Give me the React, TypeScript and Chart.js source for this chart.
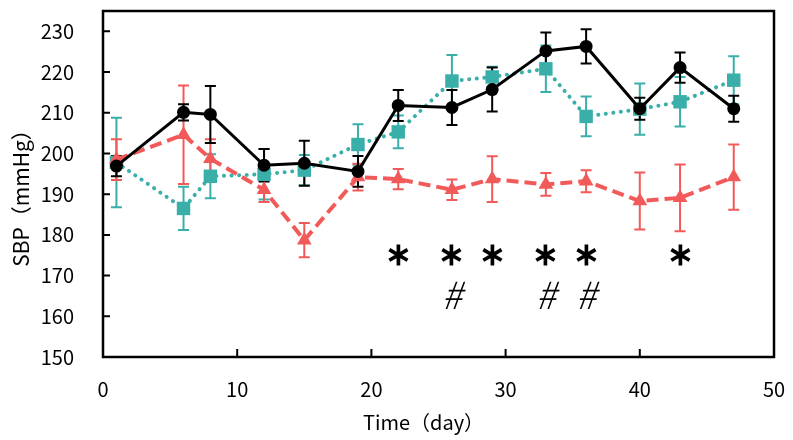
import React, { useEffect, useRef } from "react";
import { Chart, registerables } from "chart.js";

Chart.register(...registerables);

const days = [1, 6, 8, 12, 15, 19, 22, 26, 29, 33, 36, 40, 43, 47];

const blackMean = [196.9, 210.1, 209.6, 197.1, 197.6, 195.6, 211.8, 211.3, 215.7, 225.2, 226.3, 211.0, 221.1, 211.0];
const blackSd = [2.5, 2.0, 7.0, 4.0, 5.5, 3.8, 3.8, 4.3, 5.4, 4.5, 4.2, 2.7, 3.7, 3.2];

const tealMean = [197.8, 186.5, 194.4, 194.9, 195.9, 202.2, 205.3, 217.8, 218.8, 220.8, 209.1, 210.9, 212.7, 218.0];
const tealSd = [11.0, 5.3, 5.4, 6.2, 3.7, 5.0, 4.0, 6.4, 2.5, 5.7, 4.9, 6.3, 6.1, 5.9];

const redMean = [198.5, 204.6, 198.7, 191.1, 178.7, 194.2, 193.7, 191.1, 193.7, 192.4, 193.2, 188.3, 189.1, 194.2];
const redSd = [5.0, 12.1, 4.8, 3.0, 4.2, 3.3, 2.5, 2.5, 5.6, 2.8, 2.7, 7.0, 8.2, 8.0];

const starDays = [22, 26, 29, 33, 36, 43];
const hashDays = [26, 33, 36];
const STAR_LEVEL = 175.6;
const HASH_LEVEL = 165.4;

const xTicks = [0, 10, 20, 30, 40, 50];
const yTicks = [150, 160, 170, 180, 190, 200, 210, 220, 230];
const xTitle = "Time（day）";
const yTitle = "SBP（mmHg）";

const BLACK = "#000000";
const TEAL = "#3aafa9";
const RED = "#f25a5a";
const FONT = "'Noto Sans CJK JP', 'Noto Sans', sans-serif";

const sds = [blackSd, tealSd, redSd];

const errorBarPlugin = {
  id: "errorBars",
  beforeDatasetsDraw(chart: any) {
    const ctx = chart.ctx;
    const y = chart.scales.y;
    const order = [1, 2, 0];
    order.forEach((di) => {
      const ds = chart.data.datasets[di];
      const meta = chart.getDatasetMeta(di);
      ctx.save();
      ctx.strokeStyle = ds.borderColor;
      ctx.lineWidth = 2;
      meta.data.forEach((pt: any, i: number) => {
        const v = ds.data[i].y;
        const sd = sds[di][i];
        const top = y.getPixelForValue(v + sd);
        const bot = y.getPixelForValue(v - sd);
        const x = pt.x;
        ctx.beginPath();
        ctx.moveTo(x, top);
        ctx.lineTo(x, bot);
        ctx.moveTo(x - 5.5, top);
        ctx.lineTo(x + 5.5, top);
        ctx.moveTo(x - 5.5, bot);
        ctx.lineTo(x + 5.5, bot);
        ctx.stroke();
      });
      ctx.restore();
    });
  },
  afterDraw(chart: any) {
    const ctx = chart.ctx;
    const { left, right, top, bottom } = chart.chartArea;
    const xs = chart.scales.x;
    const ys = chart.scales.y;
    ctx.save();
    ctx.strokeStyle = "#000";
    ctx.lineWidth = 2.5;
    ctx.strokeRect(left, top, right - left, bottom - top);
    ctx.lineWidth = 2;
    ctx.beginPath();
    xTicks.forEach((t) => {
      const px = xs.getPixelForValue(t);
      if (t === 0 || t === 50) return;
      ctx.moveTo(px, bottom);
      ctx.lineTo(px, bottom - 8);
    });
    yTicks.forEach((t) => {
      const py = ys.getPixelForValue(t);
      if (t === 150) return;
      ctx.moveTo(left, py);
      ctx.lineTo(left + 7, py);
    });
    ctx.stroke();

    ctx.fillStyle = "#000";
    ctx.font = `20px ${FONT}`;
    ctx.textBaseline = "middle";
    ctx.textAlign = "right";
    yTicks.forEach((t) => {
      ctx.fillText(String(t), left - 29, ys.getPixelForValue(t));
    });
    ctx.textAlign = "center";
    xTicks.forEach((t) => {
      ctx.fillText(String(t), xs.getPixelForValue(t), bottom + 32);
    });
    ctx.fillText(xTitle, (left + right) / 2 - 15, bottom + 65);
    ctx.save();
    ctx.translate(21, 193);
    ctx.rotate(-Math.PI / 2);
    ctx.font = `21px ${FONT}`;
    ctx.fillText(yTitle, 0, 0);
    ctx.restore();

    ctx.font = `bold 32px ${FONT}`;
    starDays.forEach((d) => {
      ctx.fillText("∗", xs.getPixelForValue(d), ys.getPixelForValue(STAR_LEVEL));
    });
    ctx.font = `italic 300 38px ${FONT}`;
    hashDays.forEach((d) => {
      ctx.fillText("#", xs.getPixelForValue(d), ys.getPixelForValue(HASH_LEVEL));
    });
    ctx.restore();
  },
};

export default function App() {
  const ref = useRef<HTMLCanvasElement>(null);
  useEffect(() => {
    const mk = (arr: number[]) => days.map((d, i) => ({ x: d, y: arr[i] }));
    const chart = new Chart(ref.current!, {
      type: "line",
      data: {
        datasets: [
          {
            label: "black",
            data: mk(blackMean),
            borderColor: BLACK,
            backgroundColor: BLACK,
            borderWidth: 3,
            pointStyle: "circle",
            pointRadius: 6.5,
            pointBorderWidth: 0,
            order: 1,
          },
          {
            label: "teal",
            data: mk(tealMean),
            borderColor: TEAL,
            backgroundColor: TEAL,
            borderWidth: 4,
            borderDash: [0.1, 7.5],
            borderCapStyle: "round",
            pointStyle: "rect",
            pointRadius: 9.5,
            pointBorderWidth: 0,
            order: 3,
          },
          {
            label: "red",
            data: mk(redMean),
            borderColor: RED,
            backgroundColor: RED,
            borderWidth: 4,
            borderDash: [12, 6],
            pointStyle: "triangle",
            pointRadius: 8.5,
            pointBorderWidth: 0,
            order: 2,
          },
        ],
      } as any,
      options: {
        animation: false,
        responsive: false,
        maintainAspectRatio: false,
        layout: { padding: { top: 11, right: 19, left: 0, bottom: 0 } },
        plugins: { legend: { display: false }, tooltip: { enabled: false } },
        scales: {
          x: {
            type: "linear",
            min: 0,
            max: 50,
            grid: { display: false, drawTicks: false },
            border: { display: false },
            ticks: { display: false },
            afterFit: (s: any) => {
              s.height = 83;
            },
          },
          y: {
            type: "linear",
            min: 150,
            max: 235,
            grid: { display: false, drawTicks: false },
            border: { display: false },
            ticks: { display: false },
            afterFit: (s: any) => {
              s.width = 103;
            },
          },
        },
      } as any,
      plugins: [errorBarPlugin],
    });
    return () => chart.destroy();
  }, []);
  return (
    <div style={{ position: "fixed", left: 0, top: 0, width: 793, height: 440, background: "#fff" }}>
      <canvas ref={ref} width={793} height={440} style={{ width: 793, height: 440 }} />
    </div>
  );
}
